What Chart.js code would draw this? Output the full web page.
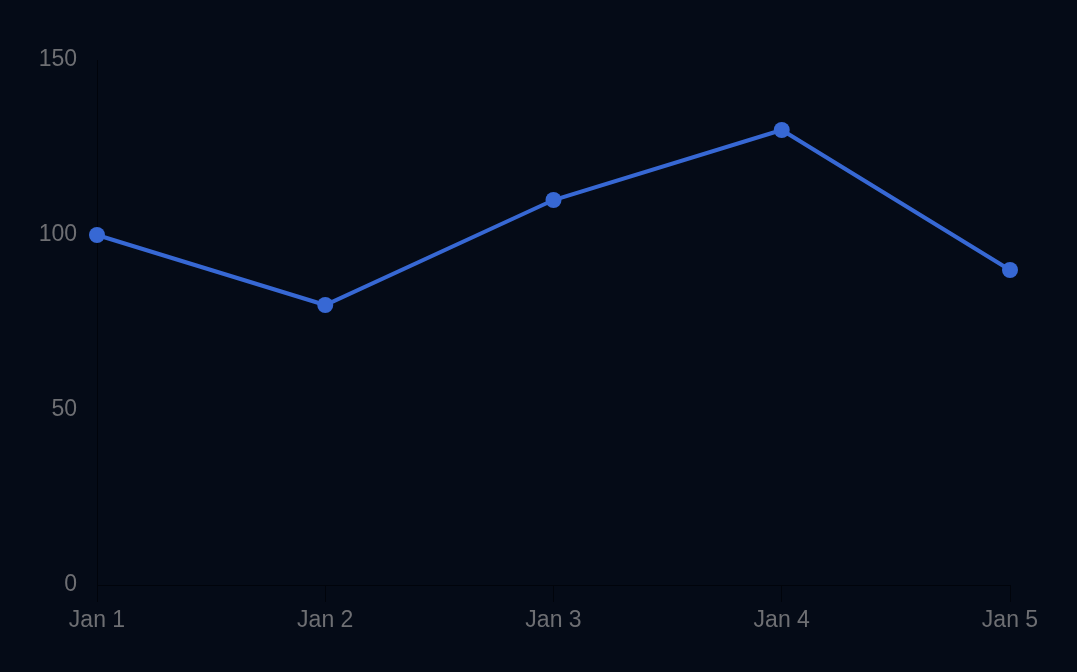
<!DOCTYPE html>
<html>
<head>
<meta charset="utf-8">
<script src="https://cdn.jsdelivr.net/npm/chart.js@4"></script>
<style>
  html, body { margin: 0; padding: 0; background: #050b17; }
  #wrap { width: 1077px; height: 672px; }
</style>
</head>
<body>
<div id="wrap"><canvas id="lineChart"></canvas></div>
<script>
// chart data
const days = ['Jan 1', 'Jan 2', 'Jan 3', 'Jan 4', 'Jan 5'];
const values = [100, 80, 110, 130, 90];
const yTicks = [0, 50, 100, 150];

const textColor = '#6e6f73';
const lineColor = '#3768d4';
const axisColor = '#01040b';

document.addEventListener('DOMContentLoaded', function () {
    const ctx = document.getElementById('lineChart').getContext('2d');
    new Chart(ctx, {
        type: 'line',
        data: {
            labels: days,
            datasets: [{
                data: values,
                borderColor: lineColor,
                backgroundColor: lineColor,
                borderWidth: 4,
                pointRadius: 8,
                pointHoverRadius: 8,
                pointBorderWidth: 0,
                tension: 0
            }]
        },
        options: {
            responsive: true,
            maintainAspectRatio: false,
            animation: false,
            layout: {
                padding: { left: 0, right: 67, top: 60, bottom: 0 }
            },
            plugins: {
                legend: { display: false },
                tooltip: { enabled: false }
            },
            scales: {
                x: {
                    grid: {
                        drawOnChartArea: false,
                        color: axisColor,
                        tickLength: 17
                    },
                    border: { color: axisColor, width: 1 },
                    ticks: {
                        color: textColor,
                        font: { family: 'Liberation Sans', size: 23 },
                        padding: 5,
                        maxRotation: 0
                    },
                    afterFit: function (scale) { scale.height = 87; }
                },
                y: {
                    min: 0,
                    max: 150,
                    afterBuildTicks: function (scale) {
                        scale.ticks = yTicks.map(v => ({ value: v }));
                    },
                    grid: { display: false },
                    border: { color: axisColor, width: 1 },
                    ticks: {
                        color: textColor,
                        font: { family: 'Liberation Sans', size: 23 },
                        padding: 12
                    },
                    afterFit: function (scale) { scale.width = 97; }
                }
            }
        }
    });
});
</script>
</body>
</html>
